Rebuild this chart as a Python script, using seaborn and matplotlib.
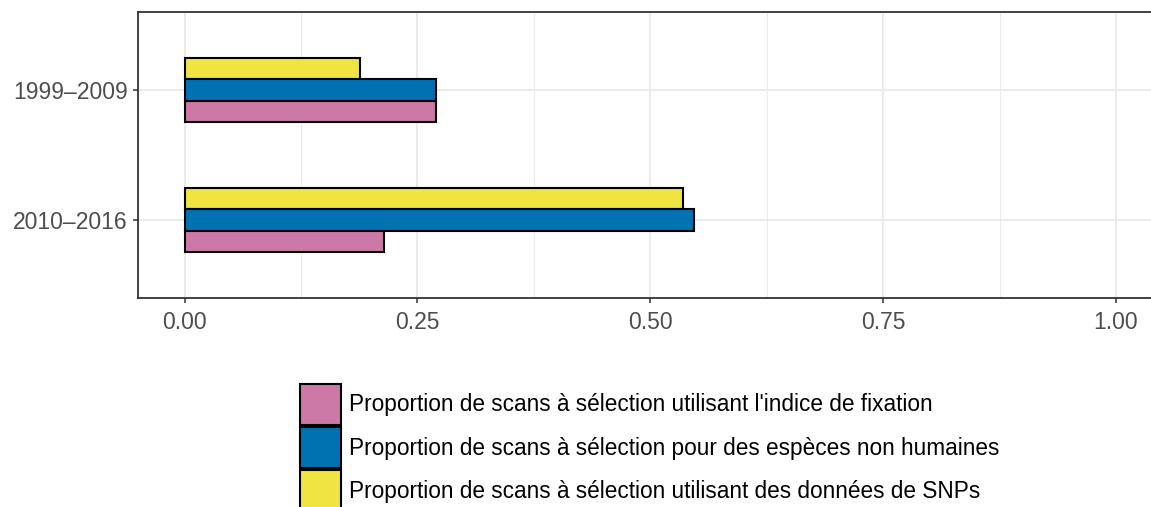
import numpy as np
import pandas as pd
import matplotlib
matplotlib.use("Agg")
import matplotlib.pyplot as plt
import seaborn as sns
from matplotlib.patches import Patch
from matplotlib.ticker import MultipleLocator

# data -------------
periodes = ["1999\u20132009", "2010\u20132016"]
series = [
    "Proportion de scans à sélection utilisant l'indice de fixation",
    "Proportion de scans à sélection pour des espèces non humaines",
    "Proportion de scans à sélection utilisant des données de SNPs",
]
fst_vals = [0.270, 0.214]
non_humain_vals = [0.270, 0.547]
snp_vals = [0.188, 0.535]
couleurs = ["#CC79A7", "#0072B2", "#F0E442"]

df = pd.DataFrame({
    "periode": periodes * 3,
    "serie": [series[0]] * 2 + [series[1]] * 2 + [series[2]] * 2,
    "valeur": fst_vals + non_humain_vals + snp_vals,
})

sns.set_style("white")
plt.rcParams["font.family"] = ["Liberation Sans", "DejaVu Sans"]

fig = plt.figure(figsize=(11.51, 5.07), dpi=100)
ax = fig.add_axes([138 / 1151, 1 - 298 / 507, (1162.6 - 138) / 1151, 286 / 507])

# yellow drawn on top, pink at the bottom
draw_order = series[::-1]
pal = dict(zip(series, couleurs))
sns.barplot(data=df, y="periode", x="valeur", hue="serie", hue_order=draw_order,
            order=periodes, palette=pal, width=0.5, orient="h",
            edgecolor="black", linewidth=1.5, saturation=1, ax=ax, legend=False,
            zorder=3)

ax.set_xlim(-0.05, 1.05)
ax.set_ylim(1.6, -0.6)
ax.set_xticks([0, 0.25, 0.5, 0.75, 1.0])
ax.set_xticklabels(["0.00", "0.25", "0.50", "0.75", "1.00"])
ax.xaxis.set_minor_locator(MultipleLocator(0.125))
ax.grid(True, which="major", color="#EBEBEB", linewidth=1.4, zorder=0)
ax.grid(True, which="minor", axis="x", color="#EBEBEB", linewidth=0.8, zorder=0)
ax.set_axisbelow(True)
ax.set_xlabel("")
ax.set_ylabel("")
for side in ["left", "top", "bottom", "right"]:
    ax.spines[side].set_color("#333333")
    ax.spines[side].set_linewidth(1.3)
ax.tick_params(axis="both", which="major", length=3.5, width=1.1, color="#333333",
               labelcolor="#4D4D4D", labelsize=16.5, pad=4, bottom=True, left=True)
ax.tick_params(axis="x", which="major", pad=6)
ax.tick_params(axis="x", which="minor", length=0)

handles = [Patch(facecolor=c, edgecolor="black", linewidth=1.5) for c in couleurs]
leg = fig.legend(handles, series, loc="upper left", bbox_to_anchor=(300 / 1151, 1 - 384 / 507),
                 frameon=False, fontsize=16.3, handlelength=1.81, handleheight=2.41,
                 handletextpad=0.35, labelspacing=0.09, borderpad=0, borderaxespad=0)
for t in leg.get_texts():
    t.set_color("black")

fig.savefig("out.png", dpi=100)
